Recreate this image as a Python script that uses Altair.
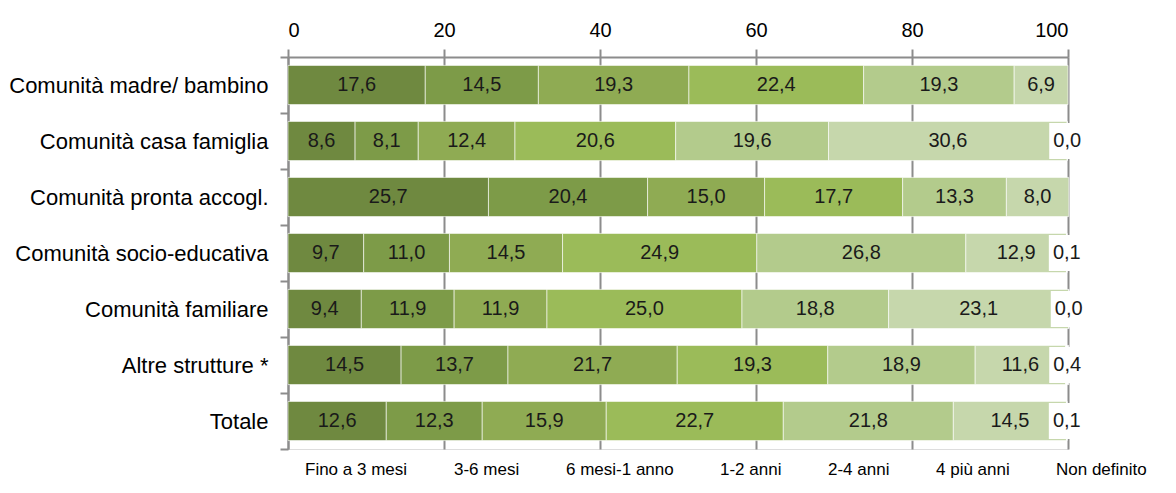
import altair as alt
import pandas as pd

categories = [
    "Comunità madre/ bambino",
    "Comunità casa famiglia",
    "Comunità pronta accogl.",
    "Comunità socio-educativa",
    "Comunità familiare",
    "Altre strutture *",
    "Totale",
]
bands = ["Fino a 3 mesi", "3-6 mesi", "6 mesi-1 anno", "1-2 anni",
         "2-4 anni", "4 più anni", "Non definito"]

fino3 = [17.6, 8.6, 25.7, 9.7, 9.4, 14.5, 12.6]
m3_6 = [14.5, 8.1, 20.4, 11.0, 11.9, 13.7, 12.3]
m6_12 = [19.3, 12.4, 15.0, 14.5, 11.9, 21.7, 15.9]
a1_2 = [22.4, 20.6, 17.7, 24.9, 25.0, 19.3, 22.7]
a2_4 = [19.3, 19.6, 13.3, 26.8, 18.8, 18.9, 21.8]
a4p = [6.9, 30.6, 8.0, 12.9, 23.1, 11.6, 14.5]
nondef = [None, 0.0, None, 0.1, 0.0, 0.4, 0.1]

colors = ["#6f8940", "#7d9b48", "#8fab53", "#9bbb59", "#b3cb8c", "#c6d7ac", "#ffffff"]

series = [fino3, m3_6, m6_12, a1_2, a2_4, a4p, nondef]
rows = []
for bi, (b, vals) in enumerate(zip(bands, series)):
    for c, v in zip(categories, vals):
        if v is None:
            continue
        rows.append({"cat": c, "band": b, "idx": bi, "value": v})
df = pd.DataFrame(rows)

FONT = "Liberation Sans"

base = alt.Chart(df).transform_stack(
    stack="value", groupby=["cat"], sort=[alt.SortField("idx")], as_=["x0", "x1"]
).transform_calculate(
    mid="(datum.x0 + datum.x1) / 2",
    lbl="replace(format(datum.value, '.1f'), '.', ',')",
)

y_axis = alt.Axis(
    tickBand="extent",
    domainColor="#8c8c8c",
    domainWidth=2,
    tickColor="#8c8c8c",
    tickWidth=2,
    tickSize=8,
    labelPadding=12,
    labelFontSize=22,
    labelFont=FONT,
    labelColor="#000000",
    labelLimit=400,
)
y_scale = alt.Scale(paddingInner=0, paddingOuter=0)

x_axis = alt.Axis(
    orient="top",
    values=[0, 20, 40, 60, 80, 100],
    grid=True,
    gridColor="#8c8c8c",
    gridWidth=2,
    domainColor="#8c8c8c",
    domainWidth=2,
    tickColor="#8c8c8c",
    tickWidth=2,
    tickSize=8,
    labelPadding=9,
    labelFontSize=20,
    labelFont=FONT,
    labelColor="#000000",
)
x_scale = alt.Scale(domain=[0, 100], nice=False)


def yenc():
    return alt.Y("cat:N", sort=categories, title=None, scale=y_scale, axis=y_axis)


def xenc(field):
    return alt.X(field, scale=x_scale, title=None, axis=x_axis)


bars = base.mark_bar(
    height={"band": 0.7}, stroke="#ffffff", strokeOpacity=0.6, strokeWidth=1
).encode(
    y=yenc(),
    x=xenc("x0:Q"),
    x2="x1:Q",
    color=alt.Color(
        "band:N",
        sort=bands,
        scale=alt.Scale(domain=bands, range=colors),
        legend=alt.Legend(
            title=None,
            orient="none",
            legendX=0,
            legendY=404,
            direction="horizontal",
            columns=7,
            symbolSize=0,
            symbolOpacity=0,
            symbolStrokeWidth=0,
            labelOffset=0,
            columnPadding=29,
            labelFontSize=17,
            labelFont=FONT,
            labelColor="#000000",
            labelLimit=300,
        ),
    ),
)

nd = base.transform_filter(alt.datum.band == "Non definito")

boxes = nd.mark_square(size=1296, color="#ffffff", opacity=1, filled=True).encode(
    y=yenc(),
    x=xenc("mid:Q"),
)

labels = base.mark_text(font=FONT, fontSize=20, color="#1a1a1a").encode(
    y=yenc(),
    x=xenc("mid:Q"),
    text="lbl:N",
)

chart = alt.layer(bars, boxes, labels).properties(
    width=780, height=392,
    padding={"left": 0, "top": 12, "right": 5, "bottom": 5},
).configure_view(stroke=None).configure(background="#ffffff")

chart.save("out.html", embed_options={"renderer": "svg", "actions": False})
